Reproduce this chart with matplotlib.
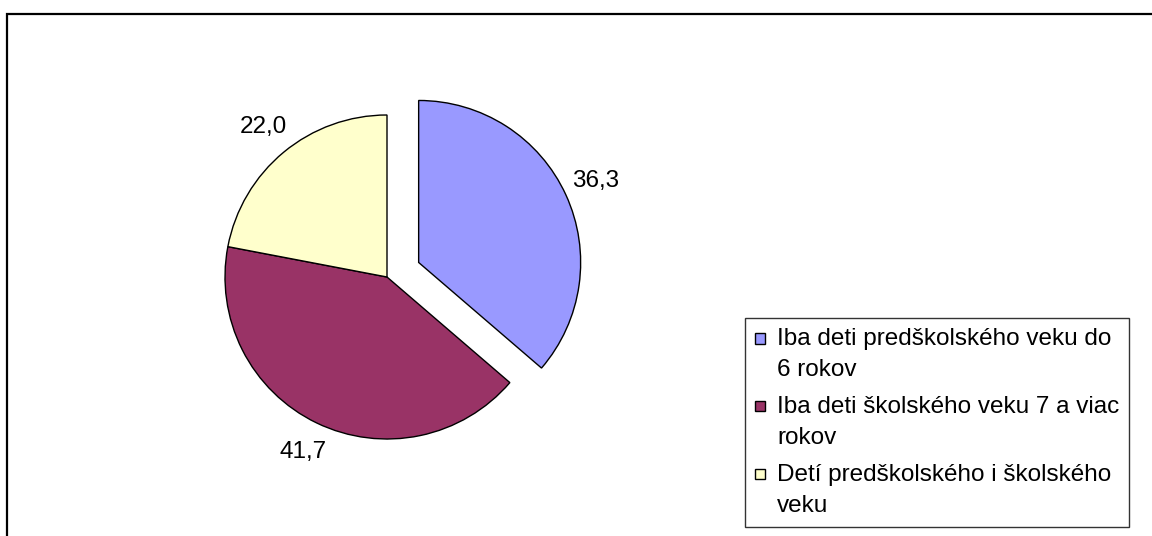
import matplotlib.pyplot as plt
from matplotlib.patches import Rectangle
from matplotlib.legend_handler import HandlerPatch

# data
labels = ["Iba deti predškolského veku do\n6 rokov",
          "Iba deti školského veku 7 a viac\nrokov",
          "Detí predškolského i školského\nveku"]
values = [36.3, 41.7, 22.0]
value_text = ["36,3", "41,7", "22,0"]
colors = ["#9999FF", "#993366", "#FFFFCC"]
explode = [0.215, 0, 0]

plt.rcParams['font.family'] = ['Liberation Sans', 'DejaVu Sans']

W, H = 1152, 536
fig = plt.figure(figsize=(W / 100, H / 100), dpi=100)

# outer chart frame (cut off at right and bottom like the source)
fig.patches.append(Rectangle((7 / W, -0.1), 1.2, 1 - 14 / H + 0.1,
                             transform=fig.transFigure, fill=False,
                             edgecolor="black", linewidth=1.6))

ax = fig.add_axes([144 / W, 16 / H, 486 / W, 486 / H])
wedges, texts = ax.pie(values, explode=explode, colors=colors, startangle=90,
                       counterclock=False, labels=value_text, labeldistance=1.2,
                       wedgeprops=dict(edgecolor="black", linewidth=1.0))
for t in texts:
    t.set_fontsize(17.5)
    t.set_ha("center")
    t.set_va("center")
ax.set_xlim(-1.5, 1.5)
ax.set_ylim(-1.5, 1.5)
ax.set_aspect("equal")
ax.axis("off")


# small square marker placed next to the first line of a two-line label
def top_square(legend, orig_handle, xdescent, ydescent, width, height, fontsize):
    return Rectangle((-xdescent, -ydescent + 0.7 * fontsize), width, width)


leg = fig.legend(wedges, labels, loc="upper left",
                 bbox_to_anchor=(745 / W, 1 - 318 / H), fontsize=17.5,
                 frameon=True, fancybox=False, edgecolor="black",
                 handlelength=0.42, handleheight=0.42, handletextpad=0.5,
                 borderpad=0.4, labelspacing=0.6, borderaxespad=0,
                 handler_map={w: HandlerPatch(patch_func=top_square) for w in wedges})
leg.get_frame().set_linewidth(1.0)
for h in leg.legend_handles:
    h.set_linewidth(1.0)
for t in leg.get_texts():
    t.set_linespacing(1.55)

fig.savefig("out.png", dpi=100)
